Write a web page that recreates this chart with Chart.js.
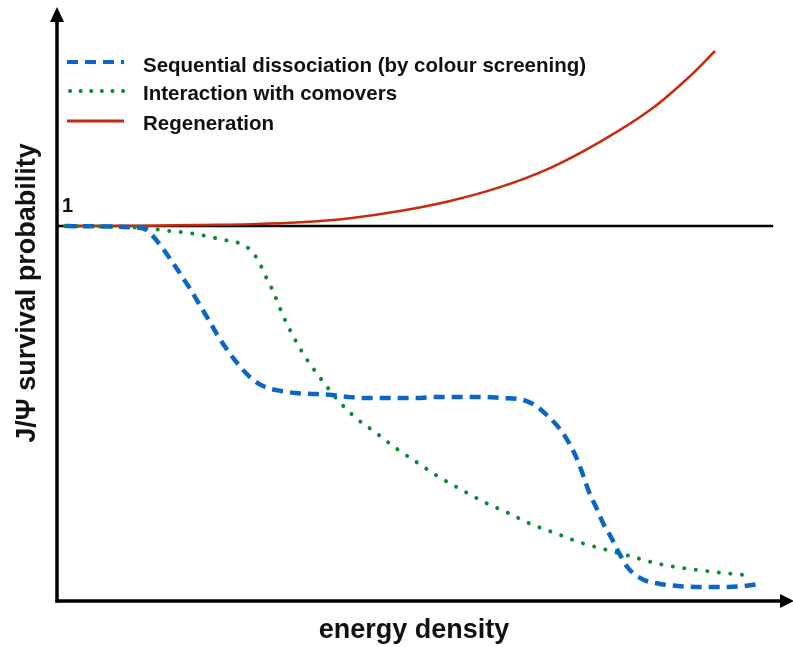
<!DOCTYPE html>
<html>
<head>
<meta charset="utf-8">
<script src="https://cdn.jsdelivr.net/npm/chart.js@4/dist/chart.umd.min.js"></script>
<style>
  html, body { margin: 0; padding: 0; background: #fff; }
  #wrap { width: 793px; height: 647px; position: relative; }
</style>
</head>
<body>
<div id="wrap"><canvas id="c" width="793" height="647"></canvas></div>
<script>
// ---- data (x: energy density, arbitrary units 0..100; y: survival probability) ----
const seqX = [1.09, 9.96, 12.01, 12.96, 14.46, 15.83, 17.19, 18.42, 19.65, 20.87, 21.96, 23.33, 24.69, 26.33, 28.10, 30.56, 32.88, 35.20, 37.52, 39.70, 42.02, 44.48, 46.79, 49.11, 51.57, 53.89, 56.07, 58.39, 60.85, 63.17, 65.21, 67.12, 68.62, 69.85, 70.94, 71.76, 72.58, 73.53, 74.49, 75.58, 76.67, 77.90, 79.81, 82.26, 84.99, 88.95, 91.41, 93.59, 95.77];
const seqY = [1.000, 0.997, 0.992, 0.976, 0.939, 0.901, 0.861, 0.824, 0.783, 0.743, 0.706, 0.666, 0.631, 0.596, 0.572, 0.559, 0.553, 0.551, 0.548, 0.543, 0.540, 0.540, 0.540, 0.540, 0.543, 0.543, 0.543, 0.543, 0.540, 0.537, 0.521, 0.489, 0.457, 0.420, 0.377, 0.334, 0.289, 0.249, 0.206, 0.168, 0.126, 0.086, 0.056, 0.043, 0.037, 0.035, 0.035, 0.037, 0.043];

const comX = [1.09, 11.73, 15.28, 18.83, 22.24, 25.65, 26.88, 27.83, 28.51, 29.33, 30.70, 32.20, 33.97, 36.02, 38.20, 40.65, 43.52, 46.38, 49.25, 52.11, 55.25, 58.25, 61.53, 64.67, 67.94, 71.21, 74.62, 78.04, 82.26, 88.40, 93.59];
const comY = [1.000, 0.995, 0.987, 0.979, 0.965, 0.947, 0.925, 0.893, 0.864, 0.832, 0.767, 0.706, 0.647, 0.591, 0.537, 0.489, 0.447, 0.404, 0.366, 0.329, 0.294, 0.262, 0.233, 0.203, 0.179, 0.155, 0.136, 0.118, 0.096, 0.078, 0.067];

const regX = [1.09, 12.69, 19.51, 26.33, 33.15, 39.97, 46.79, 53.62, 60.44, 67.26, 74.08, 80.90, 86.36, 89.77];
const regY = [1.000, 1.001, 1.003, 1.005, 1.010, 1.021, 1.040, 1.067, 1.104, 1.155, 1.225, 1.310, 1.401, 1.468];

const refX = [0, 97.7];
const refY = [1, 1];

const seriesNames = ["Sequential dissociation (by colour screening)", "Interaction with comovers", "Regeneration"];
const xTitle = "energy density";
const yTitle = "J/\u03A8 survival probability";
const yTickLabel = "1";

const pts = (xs, ys) => xs.map((x, i) => ({ x: x, y: ys[i] }));

const BLUE = "#0a67c6";
const GREEN = "#0b8a34";
const RED = "#c92a0e";
const TEXT = "#111";
const FONT = "'Liberation Sans', Arial, Helvetica, sans-serif";

const decor = {
  id: 'decor',
  afterDraw(chart) {
    const ctx = chart.ctx;
    const xs = chart.scales.x, ys = chart.scales.y;
    const x0 = xs.getPixelForValue(0);
    const y0 = ys.getPixelForValue(0) + 1;
    const yTop = 7;
    const xEnd = 793;
    ctx.save();
    // axes
    ctx.strokeStyle = '#000';
    ctx.fillStyle = '#000';
    ctx.lineWidth = 3.5;
    ctx.lineCap = 'butt';
    ctx.beginPath();
    ctx.moveTo(x0, y0 + 1.5);
    ctx.lineTo(x0, yTop + 10);
    ctx.stroke();
    ctx.beginPath();
    ctx.moveTo(x0 - 1.5, y0);
    ctx.lineTo(xEnd - 8, y0);
    ctx.stroke();
    // arrowheads
    ctx.beginPath();
    ctx.moveTo(x0, yTop);
    ctx.lineTo(x0 - 7, yTop + 15);
    ctx.lineTo(x0 + 7, yTop + 15);
    ctx.closePath();
    ctx.fill();
    ctx.beginPath();
    ctx.moveTo(xEnd + 1, y0);
    ctx.lineTo(xEnd - 13, y0 - 7);
    ctx.lineTo(xEnd - 13, y0 + 7);
    ctx.closePath();
    ctx.fill();

    ctx.fillStyle = TEXT;
    // tick label "1"
    ctx.font = "bold 20px " + FONT;
    ctx.textAlign = 'left';
    ctx.textBaseline = 'alphabetic';
    ctx.fillText(yTickLabel, 62, 212);

    // axis titles
    ctx.font = "bold 27px " + FONT;
    ctx.textAlign = 'center';
    ctx.textBaseline = 'alphabetic';
    ctx.fillText(xTitle, 414, 638);
    ctx.save();
    ctx.translate(35, 293);
    ctx.rotate(-Math.PI / 2);
    ctx.fillText(yTitle, 0, 0);
    ctx.restore();

    // legend
    const items = [
      { c: BLUE, w: 4, dash: [11, 7], cap: 'butt', y: 62, base: 71.5 },
      { c: GREEN, w: 4, dash: [0.1, 10.5], cap: 'round', y: 91, base: 100 },
      { c: RED, w: 3, dash: [], cap: 'butt', y: 121, base: 130 }
    ];
    items.forEach((it, i) => {
      ctx.strokeStyle = it.c;
      ctx.lineWidth = it.w;
      ctx.setLineDash(it.dash);
      ctx.lineCap = it.cap;
      ctx.beginPath();
      ctx.moveTo(it.cap === 'round' ? 70 : 67, it.y);
      ctx.lineTo(124, it.y);
      ctx.stroke();
      ctx.setLineDash([]);
      ctx.font = "bold 20.5px " + FONT;
      ctx.fillStyle = TEXT;
      ctx.textAlign = 'left';
      ctx.textBaseline = 'alphabetic';
      ctx.fillText(seriesNames[i], 143, it.base);
    });
    ctx.restore();
  }
};

new Chart(document.getElementById('c'), {
  type: 'line',
  data: {
    datasets: [
      { label: 'ref', data: pts(refX, refY), borderColor: '#000', borderWidth: 2.5, pointRadius: 0, tension: 0, order: 4 },
      { label: seriesNames[2], data: pts(regX, regY), borderColor: RED, borderWidth: 2.5, pointRadius: 0, tension: 0.4, order: 3 },
      { label: seriesNames[1], data: pts(comX, comY), borderColor: GREEN, borderWidth: 4, borderDash: [0.1, 11.5], borderCapStyle: 'round', pointRadius: 0, cubicInterpolationMode: 'monotone', order: 2 },
      { label: seriesNames[0], data: pts(seqX, seqY), borderColor: BLUE, borderWidth: 4.5, borderDash: [11, 7], pointRadius: 0, cubicInterpolationMode: 'monotone', order: 1 }
    ]
  },
  options: {
    responsive: false,
    animation: false,
    events: [],
    layout: { padding: { left: 57, right: 3, top: 8, bottom: 47 } },
    plugins: { legend: { display: false }, tooltip: { enabled: false } },
    scales: {
      x: { type: 'linear', min: 0, max: 100, display: false },
      y: { type: 'linear', min: 0, max: 1.583, display: false }
    }
  },
  plugins: [decor]
});
</script>
</body>
</html>
